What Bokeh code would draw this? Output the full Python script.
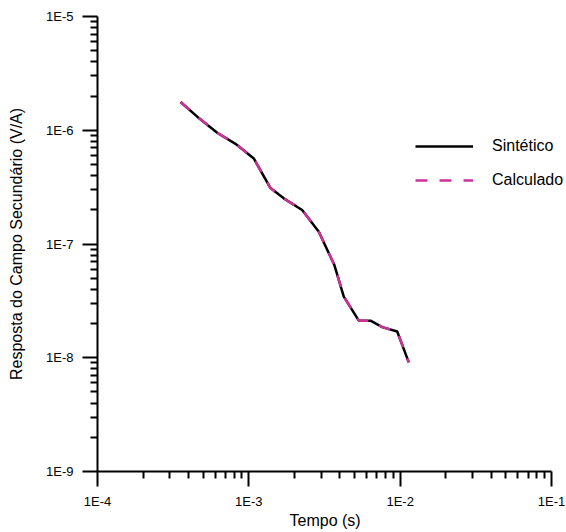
from bokeh.plotting import figure
from bokeh.models import FixedTicker, Range1d, Legend, LegendItem, Title
from bokeh.embed import file_html
from bokeh.resources import INLINE

# ---- data ----
tempo = [3.54e-4, 4.58e-4, 6.18e-4, 8.16e-4, 1.078e-3, 1.39e-3, 1.70e-3, 2.25e-3,
         2.90e-3, 3.68e-3, 4.24e-3, 5.33e-3, 6.37e-3, 7.61e-3, 9.56e-3, 1.14e-2]
sintetico = [1.77e-6, 1.31e-6, 9.5e-7, 7.6e-7, 5.65e-7, 3.1e-7, 2.52e-7, 1.99e-7,
             1.28e-7, 6.5e-8, 3.45e-8, 2.12e-8, 2.12e-8, 1.86e-8, 1.70e-8, 9.1e-9]
calculado = [1.77e-6, 1.31e-6, 9.5e-7, 7.6e-7, 5.65e-7, 3.1e-7, 2.52e-7, 1.99e-7,
             1.28e-7, 6.5e-8, 3.45e-8, 2.12e-8, 2.12e-8, 1.86e-8, 1.70e-8, 9.1e-9]

x_major = [1e-4, 1e-3, 1e-2, 1e-1]
x_labels = ["1E-4", "1E-3", "1E-2", "1E-1"]
y_major = [1e-9, 1e-8, 1e-7, 1e-6, 1e-5]
y_labels = ["1E-9", "1E-8", "1E-7", "1E-6", "1E-5"]
mantissas = [2, 3, 4, 5, 6, 7, 8, 9]

x_minor = [m * d for d in x_major[:-1] for m in mantissas]
y_minor = [m * d for d in y_major[:-1] for m in mantissas]

FONT = "Liberation Sans"

# frame extends 15 px past the 1E-1 end of the axis so the legend text is not clipped
LEFT, RIGHT_PAD = 97, 15
frame_w = 566 - LEFT
axis_w = frame_w - RIGHT_PAD
x_end = 10 ** (-1 + 3.0 * RIGHT_PAD / axis_w)

p = figure(width=566, height=532, x_axis_type="log", y_axis_type="log",
           x_range=Range1d(1e-4, x_end), y_range=Range1d(1e-9, 1e-5),
           output_backend="svg", toolbar_location=None,
           min_border_left=LEFT, min_border_right=0, min_border_top=16,
           min_border_bottom=61)
p.grid.visible = False
p.outline_line_color = None
p.background_fill_color = "white"
p.border_fill_color = "white"

p.xaxis.ticker = FixedTicker(ticks=x_major, minor_ticks=x_minor)
p.yaxis.ticker = FixedTicker(ticks=y_major, minor_ticks=y_minor)
p.xaxis.major_label_overrides = dict(zip(x_major, x_labels))
p.yaxis.major_label_overrides = dict(zip(y_major, y_labels))
p.xaxis.bounds = (x_major[0], x_major[-1])

for ax in (p.xaxis[0], p.yaxis[0]):
    ax.axis_line_width = 2
    ax.axis_line_color = "black"
    ax.major_tick_line_width = 2
    ax.minor_tick_line_width = 2
    ax.major_tick_line_color = "black"
    ax.minor_tick_line_color = "black"
    ax.major_tick_in = 0
    ax.major_tick_out = 15
    ax.minor_tick_in = 0
    ax.minor_tick_out = 7
    ax.major_label_text_font = FONT
    ax.major_label_text_font_size = "13px"
    ax.major_label_text_color = "black"
    ax.axis_label_text_font = FONT
    ax.axis_label_text_font_size = "16px"
    ax.axis_label_text_font_style = "normal"
    ax.axis_label_text_color = "black"

p.yaxis.axis_label = "Resposta do Campo Secundário (V/A)"
p.xaxis.major_label_standoff = 7
p.yaxis.major_label_standoff = 9
p.yaxis.axis_label_standoff = 18

# x-axis title as a below-panel Title, centred under the drawn axis (not the frame)
xtitle = Title(text="Tempo (s)", align="left", offset=192, standoff=-3,
               text_font=FONT, text_font_size="16px", text_font_style="normal",
               text_color="black")
p.add_layout(xtitle, "below")

r1 = p.line(tempo, sintetico, line_color="black", line_width=2.5)
r2 = p.line(tempo, calculado, line_color="#CC3399", line_width=2.5, line_dash="12 12")

legend = Legend(items=[LegendItem(label="Sintético", renderers=[r1]),
                       LegendItem(label="Calculado", renderers=[r2])],
                location=(318, 279), padding=0, margin=0,
                border_line_color=None, background_fill_alpha=0,
                glyph_width=58, glyph_height=24, label_height=24,
                label_standoff=19, spacing=10,
                label_text_font=FONT, label_text_font_size="16px",
                label_text_color="black")
p.add_layout(legend)

open("out.html", "w").write(file_html(p, INLINE))
